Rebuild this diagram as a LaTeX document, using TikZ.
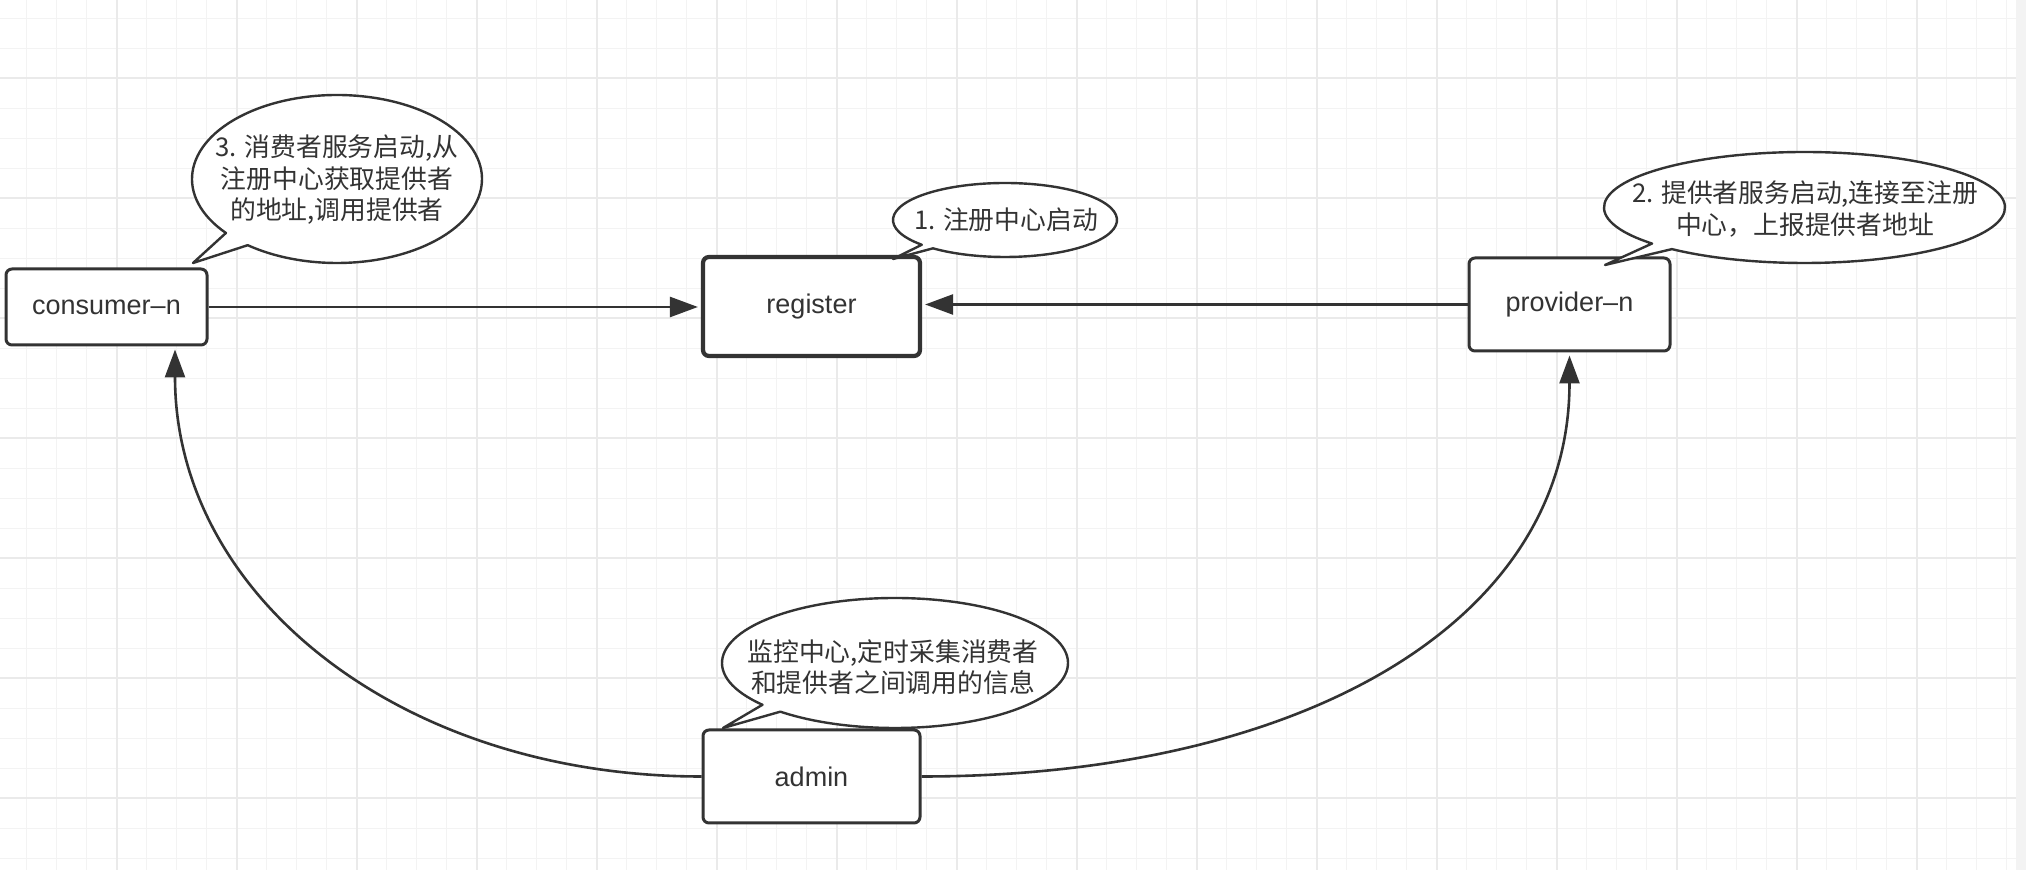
\documentclass[tikz,border=0pt]{standalone}
\usepackage{fontspec}
\setmainfont{Liberation Sans}
\newfontfamily\cjk{Noto Sans CJK SC}
\usetikzlibrary{arrows.meta,calc}
\definecolor{ink}{HTML}{333333}
\definecolor{gridminor}{HTML}{F3F3F3}
\definecolor{gridmajor}{HTML}{EAEAEA}
\definecolor{stripgray}{HTML}{F3F3F3}
\begin{document}
\begin{tikzpicture}[x=0.5pt,y=-0.5pt,
  box/.style={draw=ink, line width=1.5pt, rounded corners=3pt, fill=white, text=ink,
    font=\fontsize{13.5}{16}\selectfont, inner sep=0pt},
  boldbox/.style={box, line width=2.1pt},
  bubble/.style={draw=ink, line width=1.2pt, fill=white, line join=round},
  bubbletext/.style={text=ink, font=\cjk\fontsize{12.9}{15.75}\selectfont, align=center, inner sep=0pt},
  arr/.style={draw=ink, line width=1.3pt, -{Triangle[length=14pt,width=10pt]}, shorten >=1.5pt},
  minorline/.style={draw=gridminor, line width=0.7pt},
  majorline/.style={draw=gridmajor, line width=0.8pt}]
\useasboundingbox (0,0) rectangle (2026,870);
\fill[white] (0,0) rectangle (2026,870);
\fill[stripgray] (2016,0) rectangle (2026,870);
% grid
\foreach \k in {0,...,66} \draw[minorline] ({26.7+30*\k},0) -- ({26.7+30*\k},870);
\foreach \k in {0,...,28} \draw[minorline] (0,{18.3+30*\k}) -- (2016,{18.3+30*\k});
\foreach \k in {0,...,15} \draw[majorline] ({116.7+120*\k},0) -- ({116.7+120*\k},870);
\foreach \k in {0,...,6} \draw[majorline] (0,{78.3+120*\k}) -- (2016,{78.3+120*\k});

% boxes
\node[box, minimum width=100.5pt, minimum height=38pt] (consumer) at (106.5,307) {consumer–n};
\node[boldbox, minimum width=108.5pt, minimum height=49.5pt] (register) at (811.5,306.5) {register};
\node[box, minimum width=100.5pt, minimum height=46.5pt] (provider) at (1569.5,304.5) {provider–n};
\node[box, minimum width=108.5pt, minimum height=46.5pt] (admin) at (811.5,776.5) {admin};

% connectors
\coordinate (cin) at ($(consumer.south)+(68.5,0)$);
\draw[arr] (consumer.east) -- (consumer.east -| register.west);
\draw[arr] (provider.west) -- (provider.west -| register.east);
\draw[arr] (admin.west) .. controls +(-300,0) and +(0,250) .. (cin);
\draw[arr] (admin.east) .. controls +(380,0) and +(0,270) .. (provider.south);

% callouts
\path[bubble] (337,179) ++(140:145 and 84) arc[start angle=140, end angle=488, x radius=145, y radius=84] -- (193,263) -- cycle;
\path[bubble] (1005,220) ++(138:112 and 37) arc[start angle=138, end angle=490, x radius=112, y radius=37] -- (893,259) -- cycle;
\path[bubble] (1804.5,207.5) ++(139.5:200.5 and 55.5) arc[start angle=139.5, end angle=491.4, x radius=200.5, y radius=55.5] -- (1605,265) -- cycle;
\path[bubble] (895,663) ++(140:173 and 65) arc[start angle=140, end angle=491.5, x radius=173, y radius=65] -- (723,728) -- cycle;

\node[bubbletext] (t3) at (337,180) {3. 消费者服务启动,从\\注册中心获取提供者\\的地址,调用提供者};
\node[bubbletext] (t1) at (1006,220) {1. 注册中心启动};
\node[bubbletext] (t2) at (1805,209) {2. 提供者服务启动,连接至注册\\中心，上报提供者地址};
\node[bubbletext] (t4) at (893,667) {监控中心,定时采集消费者\\和提供者之间调用的信息};
\end{tikzpicture}
\end{document}
